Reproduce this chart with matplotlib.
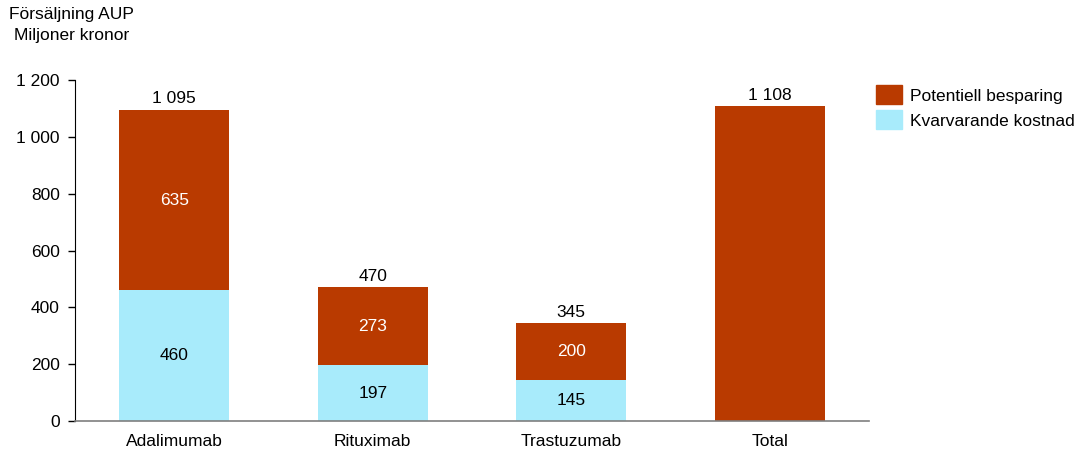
import matplotlib
matplotlib.use("Agg")
import matplotlib.pyplot as plt
from matplotlib.patches import Patch

plt.rcParams['font.family'] = ['Liberation Sans', 'DejaVu Sans']

categories = ["Adalimumab", "Rituximab", "Trastuzumab", "Total"]
kvarvarande = [460, 197, 145, 0]
besparing = [635, 273, 200, 1108]
totals = [1095, 470, 345, 1108]
yticks = [0, 200, 400, 600, 800, 1000, 1200]
ytick_labels = ["0", "200", "400", "600", "800", "1 000", "1 200"]

RED = "#B93A00"
BLUE = "#A8EBFB"

fig = plt.figure(figsize=(10.78, 4.5), dpi=100)
ax = fig.add_axes([0.0696, 0.0644, 0.7365, 0.7578])

x = list(range(len(categories)))
w = 0.555
ax.bar(x, kvarvarande, width=w, color=BLUE, zorder=2)
ax.bar(x, besparing, width=w, bottom=kvarvarande, color=RED, zorder=2)

fs = 12.5
for i in x:
    if kvarvarande[i] > 0:
        ax.text(i, kvarvarande[i] / 2, f"{kvarvarande[i]}", ha="center", va="center",
                fontsize=fs, color="black")
        ax.text(i, kvarvarande[i] + besparing[i] / 2, f"{besparing[i]}", ha="center",
                va="center", fontsize=fs, color="white")
    ax.text(i, totals[i] + 12, f"{totals[i]:,}".replace(",", " "), ha="center",
            va="bottom", fontsize=fs, color="black")

ax.set_xlim(-0.5, 3.5)
ax.set_ylim(0, 1200)
ax.set_yticks(yticks)
ax.set_yticklabels(ytick_labels, fontsize=fs)
ax.set_xticks(x)
ax.set_xticklabels(categories, fontsize=fs)
ax.tick_params(axis="x", length=0, pad=9)
ax.tick_params(axis="y", direction="out", length=5, width=1, pad=6)

for s in ["top", "right"]:
    ax.spines[s].set_visible(False)
ax.spines["left"].set_color("black")
ax.spines["bottom"].set_color("#7f7f7f")
ax.spines["bottom"].set_linewidth(1.2)

fig.text(0.066, 0.985, "Försäljning AUP\nMiljoner kronor", ha="center", va="top",
         fontsize=fs, linespacing=1.5)

handles = [Patch(color=RED, label="Potentiell besparing"),
           Patch(color=BLUE, label="Kvarvarande kostnad")]
fig.legend(handles=handles, loc="upper left", bbox_to_anchor=(0.8126, 0.81),
           borderaxespad=0, borderpad=0, frameon=False, fontsize=fs,
           handlelength=1.5, handleheight=1.3, handletextpad=0.45,
           labelspacing=0.35)

fig.savefig("out.png", dpi=100)
